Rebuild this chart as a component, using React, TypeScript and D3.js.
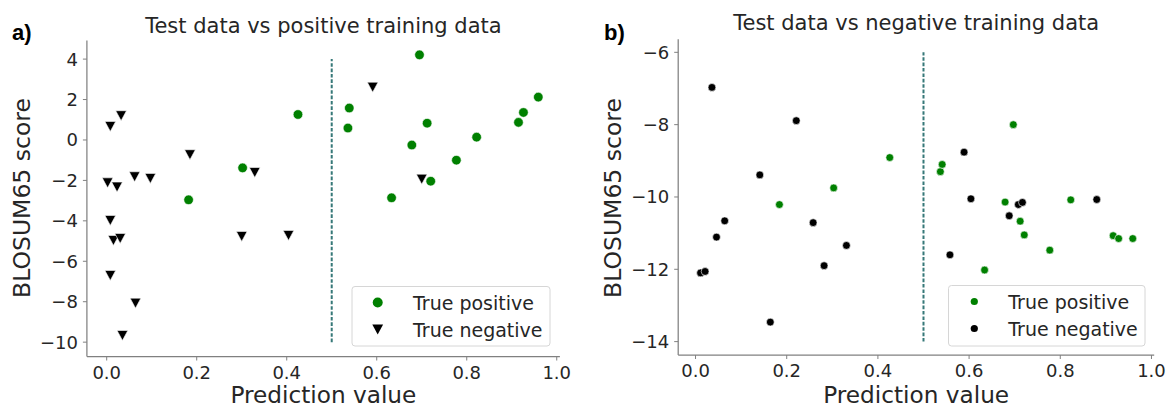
import React, { useRef, useEffect } from 'react';
import * as d3 from 'd3';

// Panel a) test data vs positive training data
const leftPosX = [0.425, 0.182, 0.302, 0.539, 0.536, 0.695, 0.678, 0.712, 0.720, 0.633, 0.777, 0.822, 0.915, 0.926, 0.959];
const leftPosY = [1.26, -2.96, -1.38, 1.58, 0.59, 4.21, -0.25, 0.83, -2.04, -2.86, -1.0, 0.14, 0.87, 1.36, 2.12];
const leftNegX = [0.008, 0.032, 0.002, 0.023, 0.062, 0.097, 0.185, 0.329, 0.008, 0.015, 0.030, 0.008, 0.064, 0.035, 0.300, 0.404, 0.591, 0.700];
const leftNegY = [0.67, 1.20, -2.12, -2.33, -1.82, -1.90, -0.73, -1.61, -3.98, -4.97, -4.87, -6.70, -8.07, -9.67, -4.77, -4.72, 2.61, -1.94];

// Panel b) test data vs negative training data
const rightPosX = [0.184, 0.303, 0.426, 0.537, 0.541, 0.634, 0.679, 0.697, 0.712, 0.721, 0.777, 0.823, 0.916, 0.928, 0.959];
const rightPosY = [-10.21, -9.75, -8.91, -9.30, -9.10, -12.02, -10.14, -8.00, -10.67, -11.05, -11.47, -10.08, -11.07, -11.15, -11.15];
const rightNegX = [0.036, 0.221, 0.141, 0.064, 0.046, 0.011, 0.021, 0.258, 0.331, 0.282, 0.164, 0.589, 0.604, 0.558, 0.708, 0.717, 0.688, 0.880];
const rightNegY = [-6.97, -7.89, -9.39, -10.66, -11.11, -12.10, -12.06, -10.71, -11.34, -11.90, -13.46, -8.76, -10.05, -11.60, -10.21, -10.15, -10.52, -10.07];

const xTicks = [0, 0.2, 0.4, 0.6, 0.8, 1.0];
const leftYTicks = [4, 2, 0, -2, -4, -6, -8, -10];
const rightYTicks = [-6, -8, -10, -12, -14];
const legendLabels = ['True positive', 'True negative'];

const threshold = 0.5;

const FONT = "'DejaVu Sans', sans-serif";
const TEXT = '#262626';
const SPINE = '#808080';
const GREEN = '#008000';
const VLINE = '#367878';

const minus = (v: number) => (v < 0 ? '\u2212' + Math.abs(v) : String(v));

const App = () => {
  const ref = useRef<SVGSVGElement>(null);

  useEffect(() => {
    const svg = d3.select(ref.current);
    svg.selectAll('*').remove();

    const drawPanel = (opts: any) => {
      const { x, y, yTicks, posX, posY, negX, negY, triangles, r, title, letter, letterX, yLabelX, legendBox, lineY } = opts;
      const g = svg.append('g');
      const [x0, x1] = x.range();
      const [y0, y1] = y.range(); // y0 bottom, y1 top

      // spines (top/right removed)
      g.append('line').attr('x1', x0).attr('x2', x0).attr('y1', y0).attr('y2', y1)
        .attr('stroke', SPINE).attr('stroke-width', 1.25);
      g.append('line').attr('x1', x0).attr('x2', x1).attr('y1', y0).attr('y2', y0)
        .attr('stroke', SPINE).attr('stroke-width', 1.25);

      // x ticks
      xTicks.forEach(t => {
        g.append('line').attr('x1', x(t)).attr('x2', x(t)).attr('y1', y0).attr('y2', y0 + 4)
          .attr('stroke', SPINE).attr('stroke-width', 1);
        g.append('text').attr('x', x(t)).attr('y', y0 + 22).attr('text-anchor', 'middle')
          .style('font-family', FONT).style('font-size', '18px').attr('fill', TEXT)
          .text(t.toFixed(1));
      });

      // y ticks
      yTicks.forEach((t: number) => {
        g.append('line').attr('x1', x0 - 4).attr('x2', x0).attr('y1', y(t)).attr('y2', y(t))
          .attr('stroke', SPINE).attr('stroke-width', 1);
        g.append('text').attr('x', x0 - 9).attr('y', y(t) + 6.5).attr('text-anchor', 'end')
          .style('font-family', FONT).style('font-size', '18px').attr('fill', TEXT)
          .text(minus(t));
      });

      // labels
      g.append('text').attr('x', (x0 + x1) / 2).attr('y', 403).attr('text-anchor', 'middle')
        .style('font-family', FONT).style('font-size', '23.2px').attr('fill', TEXT)
        .text('Prediction value');
      g.append('text').attr('transform', `translate(${yLabelX},198) rotate(-90)`).attr('text-anchor', 'middle')
        .style('font-family', FONT).style('font-size', '23.5px').attr('fill', TEXT)
        .text('BLOSUM65 score');
      g.append('text').attr('x', (x0 + x1) / 2).attr('y', opts.titleY).attr('text-anchor', 'middle')
        .style('font-family', FONT).style('font-size', '21px').attr('fill', TEXT)
        .text(title);
      g.append('text').attr('x', letterX).attr('y', opts.letterY)
        .style('font-family', "'Liberation Sans', Arial, sans-serif").style('font-size', '22px')
        .style('font-weight', 'bold').attr('fill', '#000')
        .text(letter);

      // threshold line
      g.append('line').attr('x1', x(threshold)).attr('x2', x(threshold))
        .attr('y1', y(lineY[0])).attr('y2', y(lineY[1]))
        .attr('stroke', VLINE).attr('stroke-width', 2).attr('stroke-dasharray', '3.6,1.8');

      const tri = (cx: number, cy: number, s: number) =>
        `M${cx - s * 1.08},${cy - s} L${cx + s * 1.08},${cy - s} L${cx},${cy + s} Z`;

      // negatives
      if (triangles) {
        g.selectAll('.neg').data(negX).join('path')
          .attr('d', (d: number, i: number) => tri(x(d), y(negY[i]), 5))
          .attr('fill', '#000').attr('stroke', '#fff').attr('stroke-width', 0.6);
      } else {
        g.selectAll('.neg').data(negX).join('circle')
          .attr('cx', (d: number) => x(d)).attr('cy', (d: number, i: number) => y(negY[i]))
          .attr('r', r).attr('fill', '#000').attr('stroke', '#fff').attr('stroke-width', 0.6);
      }
      // positives
      g.selectAll('.pos').data(posX).join('circle')
        .attr('cx', (d: number) => x(d)).attr('cy', (d: number, i: number) => y(posY[i]))
        .attr('r', r).attr('fill', GREEN).attr('stroke', '#fff').attr('stroke-width', 0.6);

      // legend
      const [lx, ly, lw, lh, mx, tx] = legendBox;
      g.append('rect').attr('x', lx).attr('y', ly).attr('width', lw).attr('height', lh)
        .attr('rx', 3).attr('fill', '#fff').attr('fill-opacity', 0.8)
        .attr('stroke', '#d6d6d6').attr('stroke-width', 1);
      const rows = [ly + 16, ly + 43];
      g.append('circle').attr('cx', mx).attr('cy', rows[0]).attr('r', triangles ? 5 : 3.6).attr('fill', GREEN);
      if (triangles) {
        g.append('path').attr('d', tri(mx, rows[1], 5)).attr('fill', '#000');
      } else {
        g.append('circle').attr('cx', mx).attr('cy', rows[1]).attr('r', 3.6).attr('fill', '#000');
      }
      legendLabels.forEach((t, i) => {
        g.append('text').attr('x', tx).attr('y', rows[i] + 7)
          .style('font-family', FONT).style('font-size', '19px').attr('fill', TEXT).text(t);
      });
    };

    const xl = d3.scaleLinear().domain([-0.044, 1.007]).range([86.9, 559.9]);
    const yl = d3.scaleLinear().domain([-10.71, 4.92]).range([356.5, 40.5]);
    drawPanel({
      x: xl, y: yl, yTicks: leftYTicks, posX: leftPosX, posY: leftPosY, negX: leftNegX, negY: leftNegY,
      triangles: true, r: 4.8, title: 'Test data vs positive training data', titleY: 33,
      letter: 'a)', letterX: 12, letterY: 40, yLabelX: 30, lineY: [-10, 4],
      legendBox: [352, 286.5, 198, 59.5, 377.7, 413],
    });

    const xr = d3.scaleLinear().domain([-0.038, 1.006]).range([678.2, 1154.2]);
    const yr = d3.scaleLinear().domain([-14.37, -5.64]).range([355, 39.3]);
    drawPanel({
      x: xr, y: yr, yTicks: rightYTicks, posX: rightPosX, posY: rightPosY, negX: rightNegX, negY: rightNegY,
      triangles: false, r: 3.9, title: 'Test data vs negative training data', titleY: 30,
      letter: 'b)', letterX: 604, letterY: 40, yLabelX: 621, lineY: [-14, -6],
      legendBox: [948.5, 285.5, 196.5, 60.5, 974.3, 1008.3],
    });
  }, []);

  return (
    <svg ref={ref} width={1171} height={408}
      style={{ position: 'absolute', left: 0, top: 0, background: '#fff' }} />
  );
};

export default App;
